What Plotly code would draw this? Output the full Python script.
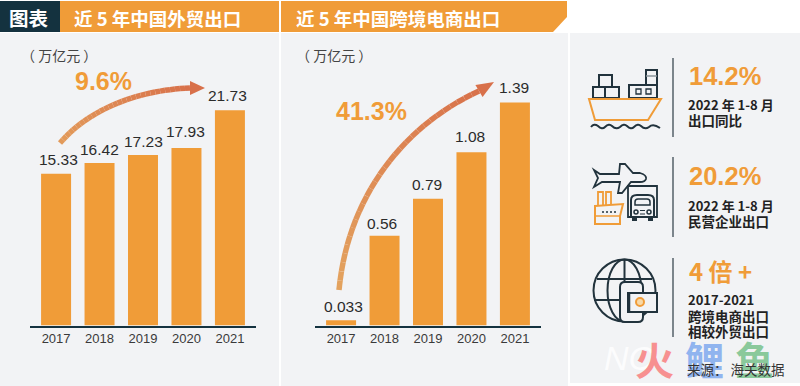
import re
import plotly.graph_objects as go

# ---- data ----
years = ["2017", "2018", "2019", "2020", "2021"]
trade_values = [15.33, 16.42, 17.23, 17.93, 21.73]
ecom_values = [0.033, 0.56, 0.79, 1.08, 1.39]
trade_labels = ["15.33", "16.42", "17.23", "17.93", "21.73"]
ecom_labels = ["0.033", "0.56", "0.79", "1.08", "1.39"]

W, H = 800, 386
ORANGE = "#f09c38"
PANEL = "#f2f3f5"
DARK = "#22333d"
NAVY = "#14323f"
LATIN = "Liberation Sans, Noto Sans CJK SC"
CJK = "Noto Sans CJK SC, Liberation Sans"


def px(x):
    return x / W


def py(y):
    return 1 - y / H


def path(s):
    """Convert an SVG path written in page pixels into paper fractions."""
    toks = re.findall(r"[A-Za-z]|-?\d+\.?\d*", s)
    out, is_x = [], True
    for t in toks:
        if t.isalpha():
            out.append(t)
            is_x = True
        else:
            out.append(f"{px(float(t)):.5f}" if is_x else f"{py(float(t)):.5f}")
            is_x = not is_x
    return " ".join(out)


shapes = []


def P(s, fill=None, line=None, w=2, layer="above"):
    d = dict(type="path", path=path(s), xref="paper", yref="paper", layer=layer,
             line=dict(color=line or "rgba(0,0,0,0)", width=w if line else 0))
    if fill:
        d["fillcolor"] = fill
    shapes.append(d)


def R(x0, y0, x1, y1, fill=None, line=None, w=2, layer="above"):
    P(f"M {x0} {y0} L {x1} {y0} L {x1} {y1} L {x0} {y1} Z", fill, line, w, layer)


def C(cx, cy, rx, ry, fill=None, line=None, w=2):
    d = dict(type="circle", xref="paper", yref="paper", x0=px(cx - rx), x1=px(cx + rx),
             y0=py(cy + ry), y1=py(cy - ry),
             line=dict(color=line or "rgba(0,0,0,0)", width=w if line else 0))
    if fill:
        d["fillcolor"] = fill
    shapes.append(d)


# panels and headers
R(0, 33, 279, 386, PANEL, layer="below")
R(281, 33, 568, 386, PANEL, layer="below")
R(570, 33, 800, 383, PANEL, layer="below")
R(60, 1, 279, 32, ORANGE, layer="below")
R(0, 1, 60, 32, NAVY, layer="below")
P("M 281 1 L 567 1 L 567 17 L 553 32 L 281 32 Z", ORANGE, layer="below")


def lerp_hex(a, b, t):
    ca = [int(a[i:i + 2], 16) for i in (1, 3, 5)]
    cb = [int(b[i:i + 2], 16) for i in (1, 3, 5)]
    return "#%02x%02x%02x" % tuple(round(p + (q - p) * t) for p, q in zip(ca, cb))


def curved_arrow(p0, p1, p2, p3, tip, head_half, c0, c1, width, n=30):
    pts = []
    for i in range(n + 1):
        t = i / n
        u = 1 - t
        pts.append((
            u ** 3 * p0[0] + 3 * u * u * t * p1[0] + 3 * u * t * t * p2[0] + t ** 3 * p3[0],
            u ** 3 * p0[1] + 3 * u * u * t * p1[1] + 3 * u * t * t * p2[1] + t ** 3 * p3[1]))
    for i in range(n):
        a, b = pts[i], pts[min(i + 1, n)]
        P(f"M {a[0]:.2f} {a[1]:.2f} L {b[0]:.2f} {b[1]:.2f}",
          line=lerp_hex(c0, c1, i / n), w=width)
    dx, dy = tip[0] - p3[0], tip[1] - p3[1]
    ln = (dx * dx + dy * dy) ** 0.5
    nx, ny = -dy / ln * head_half, dx / ln * head_half
    P(f"M {tip[0]} {tip[1]} L {p3[0] + nx:.2f} {p3[1] + ny:.2f} L {p3[0] - nx:.2f} {p3[1] - ny:.2f} Z",
      fill=c1)


curved_arrow((60, 143), (90, 108), (140, 90), (190, 88), (205, 88), 7, "#e29a5a", "#d8704a", 5.5)
curved_arrow((339, 290), (348, 195), (405, 125), (479, 91), (494, 82), 7, "#e3a25e", "#d8704a", 5.5)

# separators
for y0, y1 in [(58, 137), (157, 237), (258, 337)]:
    P(f"M 673 {y0} L 673 {y1}", line="#3c4a52", w=1.3)

# ship icon
for box in [(593, 87, 605, 98), (605, 87, 619, 98), (599, 75, 612, 87), (629, 85, 657, 98), (646, 70, 657, 85),
            (636, 89, 641, 94), (646, 89, 651, 94)]:
    R(*box, line=DARK, w=2 if box[2] - box[0] > 6 else 1.3)
P("M 646 76 L 657 76", line="#8a949a", w=1.5)
P("M 589 99 L 661 99 L 648 120 L 595 120 Z", line=ORANGE, w=2)
P("M 591 127 Q 594 123 598 126 Q 602 130 605 127 Q 609 123 612 126 Q 616 130 620 127 "
  "Q 624 123 627 126 Q 631 130 634 127 Q 638 123 641 126 Q 645 130 649 127 Q 653 123 660 128",
  line=DARK, w=2)

# plane / truck / boat icon
P("M 594 170 L 600 174 L 619 174 L 620 164 L 625 164 L 633 173 L 640 173 Q 647 175 646 179 "
  "Q 645 182 640 182 L 631 182 L 622 193 L 618 193 L 620 182 L 602 182 L 594 187 L 598 178 Z",
  line=DARK, w=1.8)
R(628, 186, 657, 217, line=DARK, w=1.8)
P("M 631 217 L 631 200 Q 631 195 637 195 L 648 195 Q 654 195 654 200 L 654 217", line=DARK, w=2)
P("M 635 205 L 635 202 Q 635 199 638 199 L 647 199 Q 650 199 650 202 L 650 205 Z", line=DARK, w=1.5)
C(636, 212, 2, 2, line=DARK, w=1.5)
C(649, 212, 2, 2, line=DARK, w=1.5)
P("M 640 210.5 L 645 210.5 M 640 214 L 645 214", line=DARK, w=1.2)
R(632, 217, 637, 221, DARK)
R(648, 217, 653, 221, DARK)
P("M 598 205 L 598 192 L 603 192 L 603 205 M 606 205 L 606 192 L 611 192 L 611 205", line=ORANGE, w=1.8)
P("M 595 206 L 623 204 L 620 216 L 620 224 L 595 224 Z", line=ORANGE, w=2)
P("M 595 216 L 620 216", line=ORANGE, w=1.5)
P("M 602 212 L 604 212 M 606 212 L 608 212 M 610 212 L 612 212 M 614 212 L 616 212", line=DARK, w=1.5)

# globe / phone / banknote icon
C(624.5, 290.5, 31, 31, line=DARK, w=2)
C(624.5, 290.5, 17, 31, line=DARK, w=2)
P("M 624.5 260 L 624.5 321", line=DARK, w=2)
P("M 597 279 L 652 279 M 594 300 L 655 300", line=DARK, w=2)
P("M 620 287 Q 620 282 625 282 L 638 282 Q 643 282 643 287 L 643 317 Q 643 322 638 322 L 625 322 Q 620 322 620 317 Z",
  fill=PANEL, line=DARK, w=2)
R(628, 293, 657, 312, fill=PANEL, line=DARK, w=2)
P("M 629 293 L 629 312", line=DARK, w=2.5)
C(640, 302, 4, 4, fill="#f7d9a8", line=ORANGE, w=2)

# ---- text ----
ann = []


def T(x, y, s, size, color, font=CJK, bold=False, anchor="left", italic=False, opacity=None):
    a = dict(x=px(x), y=py(y), xref="paper", yref="paper", text=s, showarrow=False,
             xanchor=anchor, yanchor="middle", borderpad=0,
             font=dict(family=font, size=size, color=color,
                       weight=700 if bold else 400, style="italic" if italic else "normal"))
    if opacity is not None:
        a["opacity"] = opacity
    ann.append(a)


# site watermark and source line
T(603, 358, "NC", 34, "#ffffff", LATIN, italic=True, opacity=0.8)
T(654, 358, "火", 39, "#f79090", anchor="center", bold=True)
T(704, 358, "鲤", 39, "#90b4ef", anchor="center", bold=True)
T(754, 358, "鱼", 39, "#8ac99b", anchor="center", bold=True)
T(686, 369, "来源： 海关数据", 13.5, "#333333")

T(8, 18, "图表", 19.5, "#ffffff", bold=True)
T(73, 18, "近 5 年中国外贸出口", 18.5, "#ffffff", bold=True)
T(295, 18, "近 5 年中国跨境电商出口", 18.5, "#ffffff", bold=True)
T(20, 55, "（ 万亿元 ）", 14, "#444444", anchor="left")
T(295, 55, "（ 万亿元 ）", 14, "#444444", anchor="left")
T(74, 81, "9.6%", 25, ORANGE, LATIN, True)
T(335, 111, "41.3%", 25, ORANGE, LATIN, True)

T(688, 76, "14.2%", 25.5, ORANGE, LATIN, True)
T(687, 104, "2022 年 1-8 月", 13, "#222222", bold=True)
T(687, 120, "出口同比", 13.5, "#222222", bold=True)
T(688, 176, "20.2%", 25.5, ORANGE, LATIN, True)
T(687, 205, "2022 年 1-8 月", 13, "#222222", bold=True)
T(687, 221, "民营企业出口", 13.5, "#222222", bold=True)
T(688, 270, "4 倍 +", 24, ORANGE, bold=True)
T(687, 299, "2017-2021", 13, "#222222", bold=True)
T(687, 316, "跨境电商出口", 13.5, "#222222", bold=True)
T(687, 331, "相较外贸出口", 13.5, "#222222", bold=True)

# value labels, tied to the data through the axes
for xa, ya, vals, labs, nudges in [
    ("x", "y", trade_values, trade_labels, [(2, 5), (0, 4), (0, 4), (-1, 7), (-2, 5)]),
    ("x2", "y2", ecom_values, ecom_labels, [(2, 4), (-3, 3), (-1, 5), (-1, 6), (-1, 6)]),
]:
    for i, (v, lab, (dx, dy)) in enumerate(zip(vals, labs, nudges)):
        ann.append(dict(x=i, y=v, xref=xa, yref=ya, text=lab, showarrow=False,
                        xanchor="center", yanchor="bottom", xshift=dx, yshift=dy, borderpad=0,
                        font=dict(family=LATIN, size=15.5, color="#2b2b2b")))

fig = go.Figure()
for vals, xa, ya in [(trade_values, "x", "y"), (ecom_values, "x2", "y2")]:
    fig.add_trace(go.Bar(x=years, y=vals, xaxis=xa, yaxis=ya, width=0.69,
                         marker=dict(color=ORANGE, line=dict(width=0)), showlegend=False, hoverinfo="skip"))

y_top = 40
y_base = 325.5
xstyle = dict(type="category", range=[-0.6, 4.6], showgrid=False, zeroline=False, showline=True,
              linecolor=NAVY, linewidth=2, ticks="", fixedrange=True,
              tickfont=dict(family=LATIN, size=13, color="#3a3a3a"))
ystyle = dict(visible=False, fixedrange=True, domain=[py(y_base), py(y_top)])
scale_left = 9.9  # page pixels per 万亿元
scale_right = 160.4

fig.update_layout(
    width=W, height=H, margin=dict(l=0, r=0, t=0, b=0),
    paper_bgcolor="#ffffff", plot_bgcolor="rgba(0,0,0,0)", bargap=0.3,
    xaxis=dict(xstyle, domain=[px(30), px(256)], anchor="y"),
    xaxis2=dict(xstyle, domain=[px(315), px(541)], anchor="y2"),
    yaxis=dict(ystyle, range=[0, (y_base - y_top) / scale_left], anchor="x"),
    yaxis2=dict(ystyle, range=[0, (y_base - y_top) / scale_right], anchor="x2"),
    shapes=shapes, annotations=ann,
)
fig.write_html("out.html", config=dict(displayModeBar=False),
               post_script="document.body.style.margin='0';document.documentElement.style.overflow='hidden';")
